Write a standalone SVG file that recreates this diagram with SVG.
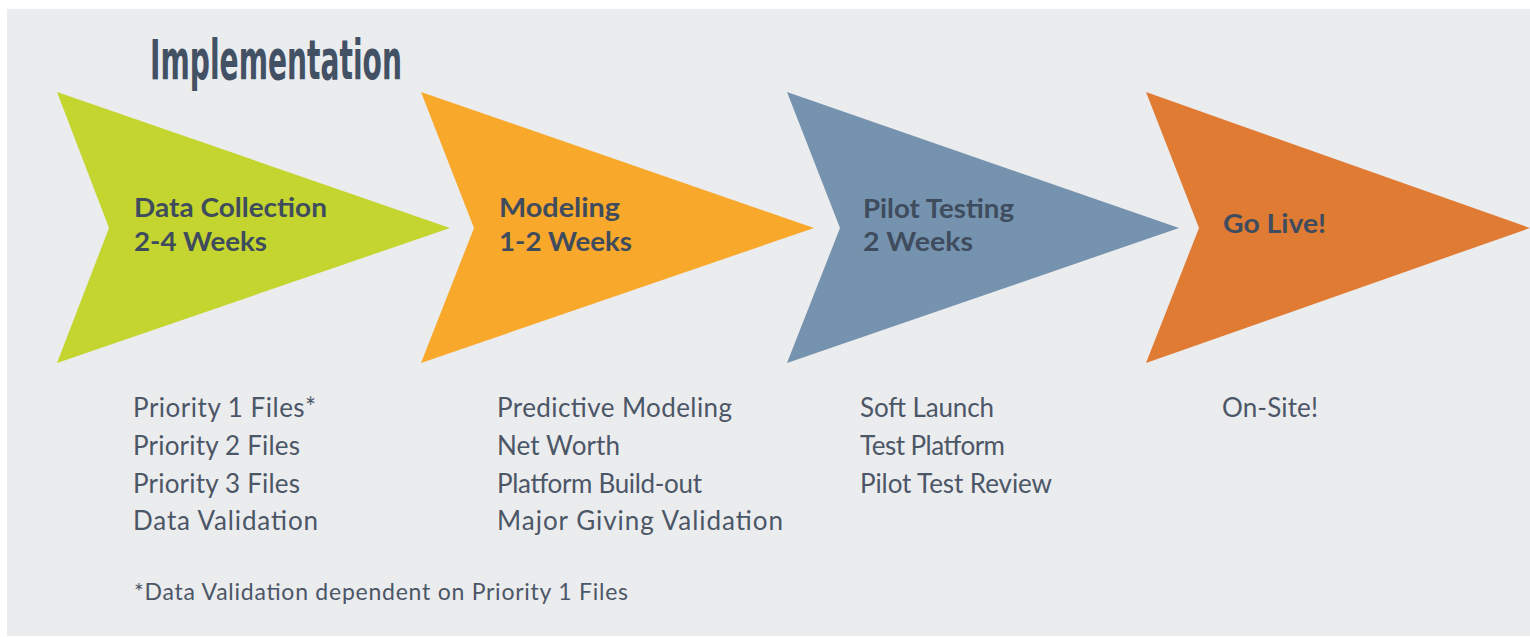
<svg xmlns="http://www.w3.org/2000/svg" width="1530" height="637" viewBox="0 0 1530 637">
  <style>
    .title { font-family: "Liberation Sans Narrow", "DejaVu Sans Condensed", "Liberation Sans", sans-serif; font-weight: bold; font-size: 55px; fill: #435165; font-stretch: condensed; }
    .head { font-family: Lato, "Liberation Sans", sans-serif; font-weight: bold; font-size: 27px; fill: #3f4c5e; }
    .body { font-family: Lato, "Liberation Sans", sans-serif; font-weight: normal; font-size: 26px; fill: #4b5667; }
    .note { font-family: Lato, "Liberation Sans", sans-serif; font-weight: normal; font-size: 23px; fill: #4b5667; }
  </style>
  <rect x="0" y="0" width="1530" height="637" fill="#ffffff"/>
  <rect x="7" y="9" width="1523" height="627" fill="#ebecee"/>
  <text class="title" x="150" y="79" textLength="252" lengthAdjust="spacingAndGlyphs">Implementation</text>
  <g id="connectors"/>
  <g id="node-data-collection">
    <polygon points="57,92 109,228 57,363 450,228" fill="#c4d52f"/>
    <text class="head" x="134" y="217" textLength="193" lengthAdjust="spacingAndGlyphs">Data Collection</text>
    <text class="head" x="134" y="251" textLength="133" lengthAdjust="spacingAndGlyphs">2-4 Weeks</text>
    <text class="body" x="133" y="417" textLength="183" lengthAdjust="spacing">Priority 1 Files*</text>
    <text class="body" x="133" y="455" textLength="167" lengthAdjust="spacing">Priority 2 Files</text>
    <text class="body" x="133" y="493" textLength="167" lengthAdjust="spacing">Priority 3 Files</text>
    <text class="body" x="133" y="530" textLength="185" lengthAdjust="spacing">Data Validation</text>
  </g>
  <g id="node-modeling">
    <polygon points="421,92 474,228 421,363 814,228" fill="#f8a82a"/>
    <text class="head" x="499" y="217" textLength="121" lengthAdjust="spacingAndGlyphs">Modeling</text>
    <text class="head" x="499" y="251" textLength="133" lengthAdjust="spacingAndGlyphs">1-2 Weeks</text>
    <text class="body" x="497" y="417" textLength="235" lengthAdjust="spacing">Predictive Modeling</text>
    <text class="body" x="497" y="455" textLength="123" lengthAdjust="spacing">Net Worth</text>
    <text class="body" x="497" y="493" textLength="205" lengthAdjust="spacing">Platform Build-out</text>
    <text class="body" x="497" y="530" textLength="286" lengthAdjust="spacing">Major Giving Validation</text>
  </g>
  <g id="node-pilot-testing">
    <polygon points="787,92 840,228 787,363 1179,228" fill="#7593ae"/>
    <text class="head" x="863" y="218" textLength="151" lengthAdjust="spacingAndGlyphs">Pilot Testing</text>
    <text class="head" x="863" y="251" textLength="110" lengthAdjust="spacingAndGlyphs">2 Weeks</text>
    <text class="body" x="860" y="417" textLength="134" lengthAdjust="spacing">Soft Launch</text>
    <text class="body" x="860" y="455" textLength="145" lengthAdjust="spacing">Test Platform</text>
    <text class="body" x="860" y="493" textLength="192" lengthAdjust="spacing">Pilot Test Review</text>
  </g>
  <g id="node-go-live">
    <polygon points="1146,92 1199,228 1146,363 1530,228" fill="#e07b33"/>
    <text class="head" x="1223" y="233" textLength="103" lengthAdjust="spacingAndGlyphs">Go Live!</text>
    <text class="body" x="1222" y="417" textLength="96" lengthAdjust="spacing">On-Site!</text>
  </g>
  <text class="note" x="134" y="600" textLength="494" lengthAdjust="spacing">*Data Validation dependent on Priority 1 Files</text>
</svg>
